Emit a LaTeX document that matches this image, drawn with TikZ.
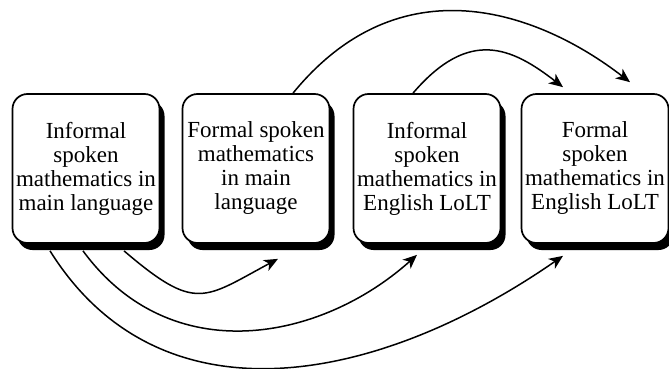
\documentclass[tikz,border=0pt]{standalone}
\usepackage{fontspec}
\setmainfont{Liberation Serif}
\usetikzlibrary{arrows.meta,shadows,backgrounds}

\tikzset{
  stagebox/.style={
    draw=black, line width=1.7pt, fill=white,
    rounded corners=15pt,
    minimum width=147pt, minimum height=149pt,
    inner sep=0pt, align=center,
    font=\fontsize{23}{24}\selectfont,
    general shadow={shadow xshift=5pt, shadow yshift=-7pt, fill=black}
  },
  link/.style={
    line width=1.5pt,
    -{Stealth[length=14pt,width=12pt,inset=4pt]}
  }
}

\begin{document}
\begin{tikzpicture}[x=1pt, y=-1pt]
  \useasboundingbox (0,0) rectangle (669,369);

  % the four stages
  \node[stagebox] (b1) at (86,168.5)  {Informal\\spoken\\mathematics in\\main language};
  \node[stagebox] (b2) at (256,168.5) {Formal spoken\\mathematics\\in main\\language};
  \node[stagebox] (b3) at (427,168.5) {Informal\\spoken\\mathematics in\\English LoLT};
  \node[stagebox] (b4) at (595,168.5) {Formal\\spoken\\mathematics in\\English LoLT};

  \begin{scope}[on background layer]
    % transitions below the boxes, all leaving the first stage
    \draw[link] ([xshift=38pt,yshift=-7pt]b1.south)
      .. controls +(72,61.5) and +(-74.5,40) ..
      ([xshift=22pt,yshift=-15pt]b2.south);
    \draw[link] ([xshift=-3pt,yshift=-7pt]b1.south)
      .. controls +(88,120) and +(-96,86) ..
      ([xshift=-10pt,yshift=-11pt]b3.south);
    \draw[link] ([xshift=-36pt,yshift=-7pt]b1.south)
      .. controls +(110,176) and +(-186,129) ..
      ([xshift=-32pt,yshift=-12pt]b4.south);

    % transitions above the boxes
    \draw[link] ([xshift=37pt]b2.north)
      .. controls +(107,-131) and +(-92.6,-71.5) ..
      ([xshift=35pt,yshift=11pt]b4.north);
    \draw[link] ([xshift=-14pt]b3.north)
      .. controls +(56.4,-65.9) and +(-51,-39.4) ..
      ([xshift=-32pt,yshift=6pt]b4.north);
  \end{scope}
\end{tikzpicture}
\end{document}
